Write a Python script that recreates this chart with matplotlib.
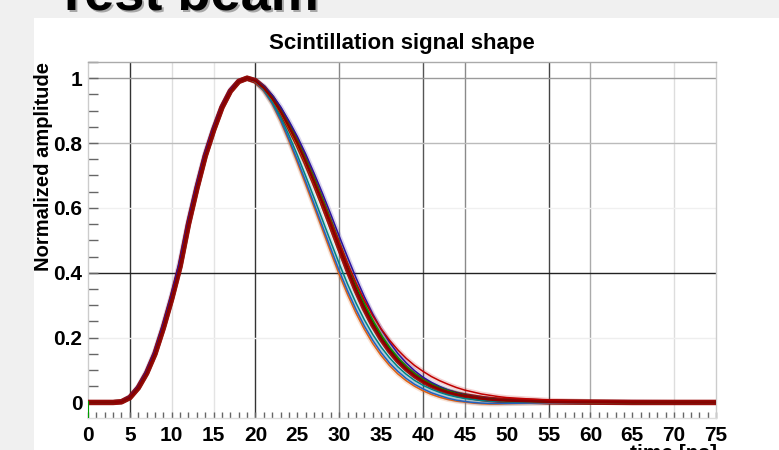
import matplotlib.pyplot as plt
from matplotlib.patches import Rectangle
from matplotlib.ticker import MultipleLocator

# time axis [ns]: rising edge and falling edge share these samples
time_rise = list(range(0, 20))
time_fall = list(range(20, 51)) + [55, 60, 65, 70, 75]

# rising edge (almost identical for all pulses)
rise_main = [0, 0, 0, 0, 0.002, 0.015, 0.045, 0.09, 0.15, 0.23,
             0.32, 0.42, 0.55, 0.66, 0.76, 0.84, 0.91, 0.96, 0.99, 1.0]
rise_wide = [0, 0, 0, 0, 0.003, 0.018, 0.05, 0.098, 0.16, 0.243,
             0.335, 0.44, 0.565, 0.675, 0.772, 0.85, 0.915, 0.965, 0.992, 1.0]

# falling edges
fall_darkred = [0.992, 0.97, 0.938, 0.898, 0.851, 0.8, 0.742, 0.68, 0.615, 0.547,
                0.478, 0.41, 0.347, 0.29, 0.24, 0.197, 0.16, 0.129, 0.104, 0.083,
                0.066, 0.052, 0.041, 0.032, 0.025, 0.02, 0.016, 0.012, 0.009, 0.007,
                0.006, 0.002, 0.001, 0, 0, 0]
fall_navy = [0.994, 0.976, 0.948, 0.912, 0.868, 0.82, 0.766, 0.707, 0.645, 0.58,
             0.513, 0.448, 0.385, 0.326, 0.273, 0.226, 0.186, 0.151, 0.122, 0.098,
             0.078, 0.062, 0.049, 0.038, 0.03, 0.023, 0.018, 0.014, 0.011, 0.008,
             0.006, 0.003, 0.001, 0.001, 0, 0]
fall_orange = [0.988, 0.96, 0.92, 0.867, 0.806, 0.74, 0.672, 0.603, 0.533, 0.463,
               0.395, 0.333, 0.276, 0.226, 0.182, 0.145, 0.114, 0.088, 0.067, 0.05,
               0.036, 0.025, 0.016, 0.009, 0.004, 0.001, -0.002, -0.004, -0.005, -0.005,
               -0.004, -0.002, 0, 0, 0, 0]
fall_blue = [0.989, 0.962, 0.923, 0.872, 0.812, 0.748, 0.681, 0.612, 0.543, 0.474,
             0.406, 0.344, 0.287, 0.236, 0.192, 0.154, 0.122, 0.096, 0.074, 0.056,
             0.042, 0.03, 0.021, 0.013, 0.007, 0.003, 0, -0.002, -0.003, -0.003,
             -0.003, -0.001, 0, 0, 0, 0]
fall_teal = [0.99, 0.965, 0.928, 0.88, 0.824, 0.763, 0.698, 0.631, 0.563, 0.495,
             0.428, 0.365, 0.307, 0.255, 0.21, 0.171, 0.138, 0.11, 0.087, 0.068,
             0.053, 0.041, 0.031, 0.023, 0.017, 0.012, 0.009, 0.006, 0.004, 0.003,
             0.002, 0.001, 0, 0, 0, 0]
fall_green = [0.993, 0.972, 0.941, 0.902, 0.857, 0.807, 0.751, 0.691, 0.628, 0.561,
              0.493, 0.426, 0.362, 0.304, 0.253, 0.208, 0.17, 0.138, 0.111, 0.089,
              0.071, 0.057, 0.045, 0.036, 0.028, 0.022, 0.017, 0.013, 0.01, 0.008,
              0.006, 0.002, 0.001, 0, 0, 0]
fall_black = [0.992, 0.971, 0.94, 0.9, 0.854, 0.803, 0.746, 0.685, 0.621, 0.554,
              0.486, 0.419, 0.355, 0.297, 0.247, 0.203, 0.166, 0.134, 0.108, 0.087,
              0.069, 0.055, 0.044, 0.035, 0.028, 0.022, 0.017, 0.013, 0.01, 0.008,
              0.006, 0.002, 0.001, 0, 0, 0]
fall_red = [0.992, 0.97, 0.938, 0.898, 0.852, 0.801, 0.745, 0.685, 0.622, 0.557,
            0.492, 0.428, 0.369, 0.315, 0.268, 0.227, 0.192, 0.162, 0.136, 0.114,
            0.096, 0.08, 0.067, 0.056, 0.046, 0.038, 0.032, 0.026, 0.022, 0.018,
            0.015, 0.007, 0.003, 0.001, 0, 0]
fall_gold = [0.991, 0.968, 0.935, 0.894, 0.846, 0.794, 0.737, 0.676, 0.611, 0.544,
             0.476, 0.41, 0.348, 0.291, 0.241, 0.198, 0.161, 0.13, 0.105, 0.084,
             0.067, 0.053, 0.042, 0.033, 0.026, 0.02, 0.016, 0.012, 0.009, 0.007,
             0.005, 0.002, 0, 0, 0, 0]

x_ticks = list(range(0, 80, 5))
y_ticks = [0, 0.2, 0.4, 0.6, 0.8, 1]
y_labels = ['0', '0.2', '0.4', '0.6', '0.8', '1']

plt.rcParams['font.family'] = ['Liberation Sans', 'DejaVu Sans']
plt.rcParams['font.weight'] = 'bold'

fig = plt.figure(figsize=(7.79, 4.5), dpi=100)
fig.patch.set_facecolor('#f0f0f0')
fig.patches.append(Rectangle((34 / 779, 0), 1, 1 - 18 / 450, transform=fig.transFigure,
                             facecolor='white', edgecolor='none', zorder=-10))

# slide heading, cut off at the top
fig.text(57 / 779, 1 - 11 / 450, 'Test beam', fontsize=39, weight='bold',
         color='#777777', alpha=0.6, va='baseline', zorder=-5)
fig.text(55 / 779, 1 - 9 / 450, 'Test beam', fontsize=39, weight='bold',
         color='black', va='baseline', zorder=-4)

ax = fig.add_axes([88 / 779, 32 / 450, 628 / 779, 356 / 450])
ax.set_zorder(1)
ax.set_xlim(0, 75)
ax.set_ylim(-0.048, 1.05)

# grid lines with the uneven shading of the screenshot
vgrid = {5: '#333333', 10: '#dddddd', 15: '#e4e4e4', 20: '#333333', 30: '#888888',
         40: '#555555', 45: '#8a8a8a', 55: '#444444', 60: '#aaaaaa', 70: '#dddddd'}
hgrid = {1.0: '#9a9a9a', 0.8: '#bbbbbb', 0.6: '#f0f0f0', 0.4: '#222222', 0.2: '#eeeeee'}
for xv, c in vgrid.items():
    ax.axvline(xv, color=c, lw=1.0, zorder=1)
for yv, c in hgrid.items():
    ax.axhline(yv, color=c, lw=1.0, zorder=1)

t = time_rise + time_fall
ax.plot(t, rise_main + fall_darkred, color='#990000', lw=4.0, alpha=0.9, zorder=3)
curves = [
    (rise_main, fall_orange, '#e06010'),
    (rise_main, fall_blue, '#2060c0'),
    (rise_main, fall_teal, '#008080'),
    (rise_wide, fall_navy, '#2a10a0'),
    (rise_main, fall_gold, '#d0a000'),
    (rise_main, fall_black, '#000000'),
    (rise_main, fall_green, '#00a000'),
    (rise_main, fall_red, '#c00000'),
]
for rise, fall, c in curves:
    ax.plot(t, rise + fall, color=c, lw=3.5, alpha=0.18, zorder=2)
    ax.plot(t, rise + fall, color=c, lw=1.1, zorder=4)
ax.plot(t, rise_main + fall_darkred, color='#8b0000', lw=1.8, zorder=5)
# green trace starts below the frame at t = 0
ax.plot([0, 0], [-0.06, 0], color='#00a000', lw=1.5, zorder=5)

ax.set_xticks(x_ticks)
ax.set_yticks(y_ticks)
ax.set_yticklabels(y_labels)
ax.xaxis.set_minor_locator(MultipleLocator(1))
ax.yaxis.set_minor_locator(MultipleLocator(0.05))
ax.tick_params(axis='x', which='both', direction='in', length=4, width=1,
               color='#666666', labelsize=15, pad=6)
ax.tick_params(axis='y', which='both', direction='in', length=7, width=1,
               color='#666666', labelsize=15, pad=4)
for lab in ax.get_xticklabels() + ax.get_yticklabels():
    lab.set_fontweight('bold')

for side, c in [('left', '#cccccc'), ('right', '#cccccc'), ('top', '#aaaaaa'), ('bottom', '#dddddd')]:
    ax.spines[side].set_color(c)
    ax.spines[side].set_linewidth(1.0)

ax.set_title('Scintillation signal shape', fontsize=16, weight='bold', pad=9)
fig.text(44 / 779, 1 - 62 / 450, 'Normalized amplitude', rotation=90, fontsize=14.5,
         weight='bold', ha='center', va='top')
fig.text(717 / 779, 1 - 444 / 450, 'time [ns]', fontsize=15, weight='bold',
         ha='right', va='top')

fig.savefig('out.png', dpi=100, facecolor=fig.get_facecolor())
